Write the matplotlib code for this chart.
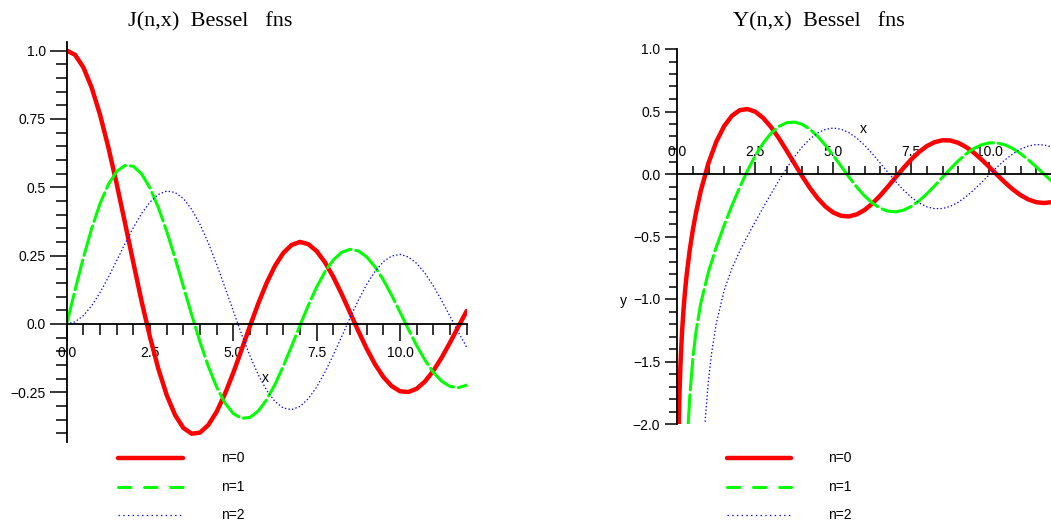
import matplotlib.pyplot as plt
from matplotlib.lines import Line2D
from matplotlib.ticker import MultipleLocator

plt.rcParams['font.family'] = ['Liberation Sans', 'DejaVu Sans']
plt.rcParams['lines.scale_dashes'] = False

# --- data ---
x_j = [0.0, 0.25, 0.5, 0.75, 1.0, 1.25, 1.5, 1.75, 2.0, 2.25, 2.5, 2.75, 3.0,
       3.25, 3.5, 3.75, 4.0, 4.25, 4.5, 4.75, 5.0, 5.25, 5.5, 5.75, 6.0, 6.25,
       6.5, 6.75, 7.0, 7.25, 7.5, 7.75, 8.0, 8.25, 8.5, 8.75, 9.0, 9.25, 9.5,
       9.75, 10.0, 10.25, 10.5, 10.75, 11.0, 11.25, 11.5, 11.75, 12.0]
j0 = [1.0, 0.9842, 0.9385, 0.8640, 0.7652, 0.6458, 0.5118, 0.3690, 0.2239,
      0.0810, -0.0484, -0.1639, -0.2601, -0.3325, -0.3801, -0.4011, -0.3971,
      -0.3690, -0.3205, -0.2550, -0.1776, -0.0931, -0.0068, 0.0758, 0.1506,
      0.2129, 0.2601, 0.2892, 0.3001, 0.2918, 0.2663, 0.2251, 0.1717, 0.1092,
      0.0419, -0.0259, -0.0903, -0.1472, -0.1939, -0.2271, -0.2459, -0.2487,
      -0.2366, -0.2099, -0.1712, -0.1226, -0.0677, -0.0097, 0.0477]
j1 = [0.0, 0.1240, 0.2423, 0.3491, 0.4401, 0.5104, 0.5579, 0.5799, 0.5767,
      0.5481, 0.4971, 0.4258, 0.3391, 0.2411, 0.1374, 0.0333, -0.0660, -0.1554,
      -0.2311, -0.2890, -0.3276, -0.3448, -0.3414, -0.3177, -0.2767, -0.2206,
      -0.1538, -0.0803, -0.0047, 0.0684, 0.1352, 0.1914, 0.2346, 0.2620,
      0.2731, 0.2670, 0.2453, 0.2090, 0.1613, 0.1048, 0.0435, -0.0190, -0.0789,
      -0.1324, -0.1768, -0.2092, -0.2284, -0.2329, -0.2234]
j2 = [0.0, 0.0078, 0.0306, 0.0669, 0.1149, 0.1708, 0.2321, 0.2938, 0.3528,
      0.4043, 0.4461, 0.4736, 0.4861, 0.4809, 0.4586, 0.4189, 0.3641, 0.2959,
      0.2178, 0.1333, 0.0466, -0.0383, -0.1173, -0.1863, -0.2429, -0.2835,
      -0.3074, -0.3130, -0.3014, -0.2729, -0.2303, -0.1757, -0.1130, -0.0457,
      0.0223, 0.0869, 0.1448, 0.1924, 0.2279, 0.2486, 0.2546, 0.2450, 0.2216,
      0.1853, 0.1390, 0.0854, 0.0279, -0.0299, -0.0849]

x_y0 = [0.04, 0.05, 0.075, 0.1, 0.15, 0.2, 0.25, 0.3, 0.4, 0.5, 0.6, 0.75,
        1.0, 1.25, 1.5, 1.75, 2.0, 2.25, 2.5, 2.75, 3.0, 3.25, 3.5, 3.75, 4.0,
        4.25, 4.5, 4.75, 5.0, 5.25, 5.5, 5.75, 6.0, 6.25, 6.5, 6.75, 7.0, 7.25,
        7.5, 7.75, 8.0, 8.25, 8.5, 8.75, 9.0, 9.25, 9.5, 9.75, 10.0, 10.25,
        10.5, 10.75, 11.0, 11.25, 11.5, 11.75, 12.0]
y0 = [-2.1218, -1.9793, -1.7195, -1.5342, -1.2708, -1.0811, -0.9315, -0.8073,
      -0.6060, -0.4445, -0.3085, -0.1371, 0.0883, 0.2582, 0.3825, 0.4655,
      0.5104, 0.5199, 0.4981, 0.4486, 0.3769, 0.2883, 0.1890, 0.0854, -0.0169,
      -0.1117, -0.1947, -0.2610, -0.3085, -0.3345, -0.3395, -0.3231, -0.2882,
      -0.2368, -0.1732, -0.1014, -0.0260, 0.0483, 0.1173, 0.1766, 0.2235,
      0.2549, 0.2702, 0.2680, 0.2499, 0.2166, 0.1712, 0.1163, 0.0557, -0.0069,
      -0.0676, -0.1225, -0.1689, -0.2036, -0.2253, -0.2323, -0.2252]

x_y1 = [0.3, 0.35, 0.4, 0.5, 0.6, 0.75, 1.0, 1.25, 1.5, 1.75, 2.0, 2.25, 2.5,
        2.75, 3.0, 3.25, 3.5, 3.75, 4.0, 4.25, 4.5, 4.75, 5.0, 5.25, 5.5, 5.75,
        6.0, 6.25, 6.5, 6.75, 7.0, 7.25, 7.5, 7.75, 8.0, 8.25, 8.5, 8.75, 9.0,
        9.25, 9.5, 9.75, 10.0, 10.25, 10.5, 10.75, 11.0, 11.25, 11.5, 11.75,
        12.0]
y1 = [-2.2931, -2.0004, -1.7808, -1.4715, -1.2603, -1.0371, -0.7812, -0.5845,
      -0.4123, -0.2532, -0.1070, 0.0273, 0.1459, 0.2459, 0.3247, 0.3796,
      0.4102, 0.4156, 0.3979, 0.3584, 0.3010, 0.2292, 0.1479, 0.0619, -0.0238,
      -0.1040, -0.1750, -0.2321, -0.2735, -0.2972, -0.3027, -0.2892, -0.2591,
      -0.2142, -0.1581, -0.0940, -0.0261, 0.0412, 0.1043, 0.1592, 0.2032,
      0.2334, 0.2490, 0.2487, 0.2337, 0.2045, 0.1637, 0.1137, 0.0579, -0.0002,
      -0.0571]

x_y2 = [0.8, 0.9, 1.0, 1.1, 1.25, 1.5, 1.75, 2.0, 2.25, 2.5, 2.75, 3.0, 3.25,
        3.5, 3.75, 4.0, 4.25, 4.5, 4.75, 5.0, 5.25, 5.5, 5.75, 6.0, 6.25, 6.5,
        6.75, 7.0, 7.25, 7.5, 7.75, 8.0, 8.25, 8.5, 8.75, 9.0, 9.25, 9.5, 9.75,
        10.0, 10.25, 10.5, 10.75, 11.0, 11.25, 11.5, 11.75, 12.0]
y2 = [-2.3570, -1.9458, -1.6507, -1.4315, -1.1934, -0.9322, -0.7549, -0.6174,
      -0.4956, -0.3814, -0.2698, -0.1604, -0.0547, 0.0454, 0.1363, 0.2159,
      0.2804, 0.3285, 0.3575, 0.3677, 0.3581, 0.3308, 0.2869, 0.2299, 0.1625,
      0.0890, 0.0133, -0.0605, -0.1281, -0.1864, -0.2319, -0.2630, -0.2777,
      -0.2763, -0.2586, -0.2267, -0.1822, -0.1284, -0.0684, -0.0059, 0.0554,
      0.1121, 0.1605, 0.1987, 0.2238, 0.2354, 0.2323, 0.2157]

labels = ['n=0', 'n=1', 'n=2']
x_ticks = [0.0, 2.5, 5.0, 7.5, 10.0]
x_ticklabels = ['0.0', '2.5', '5.0', '7.5', '10.0']
jy_ticks = [-0.25, 0.0, 0.25, 0.5, 0.75, 1.0]
jy_ticklabels = ['\u22120.25', '0.0', '0.25', '0.5', '0.75', '1.0']
yy_ticks = [-2.0, -1.5, -1.0, -0.5, 0.0, 0.5, 1.0]
yy_ticklabels = ['\u22122.0', '\u22121.5', '\u22121.0', '\u22120.5', '0.0', '0.5', '1.0']

W, H = 1051, 522
fig = plt.figure(figsize=(W / 100, H / 100), dpi=100)


def box(x0, x1, top, bottom):
    # pixel box of the image (origin top left) -> figure fraction
    return [x0 / W, 1 - bottom / H, (x1 - x0) / W, (bottom - top) / H]


red = dict(color='#ff0000', lw=3.2, solid_capstyle='round', solid_joinstyle='round')
green = dict(color='#00ff00', lw=2.2, dashes=(22, 3.5), dash_capstyle='round',
             dash_joinstyle='round')
blue = dict(color='#0000ff', lw=0.9, dashes=(1, 1.6))
serif = ['Liberation Serif', 'DejaVu Serif']

# ---------------- J panel ----------------
ax1 = fig.add_axes(box(66.7, 466.7, 42.3, 441.6))
ax1.plot(x_j, j0, **red)
ax1.plot(x_j, j1, **green)
ax1.plot(x_j, j2, **blue)
ax1.set_xlim(0, 12)
ax1.set_ylim(-0.43, 1.03)
ax1.patch.set_visible(False)
for s in ['top', 'right']:
    ax1.spines[s].set_visible(False)
ax1.spines['bottom'].set_position(('data', 0))
for s in ['left', 'bottom']:
    ax1.spines[s].set_linewidth(1.3)
ax1.set_xticks(x_ticks, labels=x_ticklabels)
ax1.set_yticks(jy_ticks, labels=jy_ticklabels)
ax1.xaxis.set_minor_locator(MultipleLocator(0.5))
ax1.yaxis.set_minor_locator(MultipleLocator(0.05))
ax1.tick_params(which='major', direction='out', length=12, width=1.1, labelsize=10)
ax1.tick_params(which='minor', direction='out', length=8, width=1.1)
ax1.tick_params(axis='x', pad=4)
ax1.tick_params(axis='y', pad=3)
ax1.text(5.95, -0.197, 'x', fontsize=10, ha='center', va='center')

# ---------------- Y panel ----------------
ax2 = fig.add_axes(box(677.3, 1051.7, 49, 424))
ax2.plot(x_y0, y0, **red)
ax2.plot(x_y1, y1, **green)
ax2.plot(x_y2, y2, **blue)
ax2.set_xlim(0, 12)
ax2.set_ylim(-2, 1)
ax2.patch.set_visible(False)
for s in ['bottom', 'right']:
    ax2.spines[s].set_visible(False)
ax2.spines['top'].set_position(('data', 0))
for s in ['left', 'top']:
    ax2.spines[s].set_linewidth(1.3)
ax2.xaxis.set_ticks_position('top')
ax2.set_xticks(x_ticks, labels=x_ticklabels)
ax2.set_yticks(yy_ticks, labels=yy_ticklabels)
ax2.xaxis.set_minor_locator(MultipleLocator(0.5))
ax2.yaxis.set_minor_locator(MultipleLocator(0.1))
ax2.tick_params(which='major', direction='out', length=8.6, width=1.1, labelsize=10)
ax2.tick_params(which='minor', direction='out', length=6, width=1.1)
ax2.tick_params(axis='x', labeltop=True, labelbottom=False, pad=2)
ax2.tick_params(axis='y', pad=3.6)
ax2.text(5.95, 0.36, 'x', fontsize=10, ha='center', va='center')
ax2.text(-1.74, -1.02, 'y', fontsize=10, ha='center', va='center', clip_on=False)

# ---------------- titles ----------------
fig.text(210 / W, 1 - 26.7 / H, 'J(n,x)  Bessel   fns', family=serif,
         fontsize=16, ha='center', va='baseline')
fig.text(819 / W, 1 - 26.7 / H, 'Y(n,x)  Bessel   fns', family=serif,
         fontsize=16, ha='center', va='baseline')

# ---------------- legends ----------------
leg_styles = [dict(color='#ff0000', lw=3.2, solid_capstyle='round'),
              dict(color='#00ff00', lw=2.2, dashes=(8.9, 9.9), dash_capstyle='round'),
              dict(color='#0000ff', lw=0.9, dashes=(1, 2.4))]
leg_rows = [458, 487, 515]
for lx0, lx1, tx in [(118, 183, 220.7), (727, 791, 828.3)]:
    for yy, st, lab in zip(leg_rows, leg_styles, labels):
        fig.add_artist(Line2D([lx0 / W, lx1 / W], [1 - yy / H, 1 - yy / H],
                              transform=fig.transFigure, **st))
        fig.text(tx / W, 1 - yy / H, lab, fontsize=10, ha='left', va='center')

fig.savefig('out.png', dpi=100)
